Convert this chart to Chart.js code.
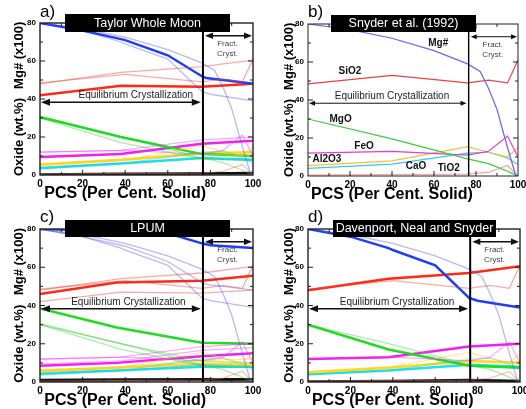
<!DOCTYPE html>
<html>
<head>
<meta charset="utf-8">
<script src="https://cdn.jsdelivr.net/npm/chart.js@4"></script>
<style>
  html, body { margin: 0; padding: 0; background: #fff; }
  body { width: 526px; height: 409px; position: relative; overflow: hidden; }
  canvas { position: absolute; }
</style>
</head>
<body>
<canvas id="panelA" width="263" height="205" style="left:0;top:0"></canvas>
<canvas id="panelB" width="263" height="205" style="left:263px;top:0"></canvas>
<canvas id="panelC" width="263" height="204" style="left:0;top:205px"></canvas>
<canvas id="panelD" width="263" height="204" style="left:263px;top:205px"></canvas>
<script>
// Axis ticks
const pcsTicks = [0, 20, 40, 60, 80, 100];
const yTicks = [0, 20, 40, 60, 80];

// Snyder et al. (1992)
const snyderMgPcs = [0, 20, 40, 60, 76, 82, 86, 90, 95, 99];
const snyderMg = [80, 77, 72.5, 66, 59, 55, 46, 35, 15, 0];
const snyderPcs = [0, 40, 76, 86, 95, 100];
const snyderSiO2 = [48.5, 53, 49, 50.5, 49, 61];
const snyderMgO = [30, 19.5, 9, 6.5, 2.5, 0];
const snyderFeO = [12, 13, 11, 13, 21, 10];
const snyderAl2O3 = [5.5, 8, 15.5, 12.5, 10, 15];
const snyderCaO = [4, 6.3, 12, 12.5, 9.5, 6];
const snyderTiO2 = [0.5, 0.8, 1, 2, 5.5, 0];

// Taylor Whole Moon
const taylorMgPcs = [0, 20, 38, 40, 60, 76, 78, 90, 100];
const taylorMg = [80, 76, 71.5, 71, 63, 52, 51, 49.5, 48];
const taylorPcs = [0, 38, 76, 100];
const taylorSiO2 = [42, 47, 46.5, 48];
const taylorMgO = [30.5, 20, 11, 10];
const taylorFeO = [9.5, 11, 16.5, 18];
const taylorAl2O3 = [5.5, 8, 11.5, 12];
const taylorCaO = [3.5, 6, 9, 8];
const taylorTiO2 = [0.3, 0.6, 0.8, 1];

// LPUM
const lpumMgPcs = [0, 40, 64, 76, 80, 100];
const lpumMg = [80, 79, 76.5, 72.5, 71.5, 70];
const lpumPcs = [0, 36, 76, 100];
const lpumSiO2 = [46, 52, 53, 55.5];
const lpumMgO = [38.5, 28.5, 20.5, 20];
const lpumFeO = [8.5, 10, 13.5, 15];
const lpumAl2O3 = [6, 7.5, 9.5, 9];
const lpumCaO = [4.5, 6, 8, 8];
const lpumTiO2 = [1, 1.3, 1.5, 1.5];

// Davenport, Neal and Snyder
const davMgPcs = [0, 20, 38, 40, 60, 76, 80, 100];
const davMg = [80, 76, 70, 69, 61, 44, 42.5, 39];
const davPcs = [0, 38, 76, 100];
const davSiO2 = [48, 54, 57, 60.5];
const davMgO = [30, 17, 8.5, 7.5];
const davFeO = [12, 13, 18.5, 20];
const davAl2O3 = [5, 7.5, 11, 10];
const davCaO = [4, 6, 9, 8];
const davTiO2 = [0.2, 0.5, 1, 0.5];

// Snyder panel labels
const snyderLabels = ['Mg#', 'SiO2', 'MgO', 'FeO', 'Al2O3', 'CaO', 'TiO2'];

const oxides = ['SiO2', 'MgO', 'FeO', 'Al2O3', 'CaO', 'TiO2'];
const FONT = '"Liberation Sans", Arial, Helvetica, sans-serif';

const snyder = { mgPcs: snyderMgPcs, mg: snyderMg, pcs: snyderPcs, SiO2: snyderSiO2, MgO: snyderMgO, FeO: snyderFeO, Al2O3: snyderAl2O3, CaO: snyderCaO, TiO2: snyderTiO2 };
const taylor = { mgPcs: taylorMgPcs, mg: taylorMg, pcs: taylorPcs, SiO2: taylorSiO2, MgO: taylorMgO, FeO: taylorFeO, Al2O3: taylorAl2O3, CaO: taylorCaO, TiO2: taylorTiO2 };
const lpum = { mgPcs: lpumMgPcs, mg: lpumMg, pcs: lpumPcs, SiO2: lpumSiO2, MgO: lpumMgO, FeO: lpumFeO, Al2O3: lpumAl2O3, CaO: lpumCaO, TiO2: lpumTiO2 };
const davenport = { mgPcs: davMgPcs, mg: davMg, pcs: davPcs, SiO2: davSiO2, MgO: davMgO, FeO: davFeO, Al2O3: davAl2O3, CaO: davCaO, TiO2: davTiO2 };

const heavyColors = { mg: '#1f3ff0', SiO2: '#ff2a12', MgO: '#1fdc1f', FeO: '#f21ff2', Al2O3: '#ffd91a', CaO: '#1ee0ea', TiO2: '#111111' };
const snyderColors = { mg: '#6868ee', SiO2: '#e54444', MgO: '#3fc83f', FeO: '#dd3ddd', Al2O3: '#f3c236', CaO: '#3cc6ee', TiO2: '#f4a4a4' };
const fadedSnyder = { mg: 'rgba(70,70,235,0.38)', SiO2: 'rgba(240,70,60,0.45)', MgO: 'rgba(50,205,50,0.4)', FeO: 'rgba(240,50,240,0.4)', Al2O3: 'rgba(250,205,50,0.45)', CaO: 'rgba(30,215,230,0.4)', TiO2: 'rgba(240,120,120,0.45)' };
const fadedOther = Object.assign({}, fadedSnyder, { TiO2: 'rgba(0,0,0,0.45)' });

function series(xs, ys, color, width) {
  return {
    data: xs.map((x, i) => ({ x: x, y: ys[i] })),
    borderColor: color,
    borderWidth: width,
    pointRadius: 0,
    tension: 0,
    fill: false
  };
}

function modelSets(model, colors, width) {
  const sets = [series(model.mgPcs, model.mg, colors.mg, width)];
  for (const ox of oxides) sets.push(series(model.pcs, model[ox], colors[ox], width));
  return sets;
}

function line(ctx, x1, y1, x2, y2) {
  ctx.beginPath(); ctx.moveTo(x1, y1); ctx.lineTo(x2, y2); ctx.stroke();
}

function arrow(ctx, x1, x2, y, w, head) {
  ctx.lineWidth = w;
  line(ctx, x1 + 2, y, x2 - 2, y);
  ctx.beginPath();
  ctx.moveTo(x1, y); ctx.lineTo(x1 + head, y - head * 0.4); ctx.lineTo(x1 + head, y + head * 0.4); ctx.closePath(); ctx.fill();
  ctx.beginPath();
  ctx.moveTo(x2, y); ctx.lineTo(x2 - head, y - head * 0.4); ctx.lineTo(x2 - head, y + head * 0.4); ctx.closePath(); ctx.fill();
}

const overlay = {
  id: 'overlay',
  afterDraw(chart, args, o) {
    const { ctx, chartArea: a } = chart;
    const x = chart.scales.x, y = chart.scales.y;
    ctx.save();
    ctx.strokeStyle = '#222';
    ctx.fillStyle = '#111';

    // frame and inner ticks
    ctx.lineWidth = o.thin ? 1 : 1.4;
    ctx.strokeRect(a.left, a.top, a.right - a.left, a.bottom - a.top);
    ctx.lineWidth = 1;
    for (let v = 10; v < 100; v += 10) {
      const px = x.getPixelForValue(v), len = v % 20 === 0 ? 5 : 3;
      line(ctx, px, a.bottom, px, a.bottom - len);
      line(ctx, px, a.top, px, a.top + len);
    }
    for (let v = 10; v < 80; v += 10) {
      const py = y.getPixelForValue(v), len = v % 20 === 0 ? 5 : 3;
      line(ctx, a.left, py, a.left + len, py);
      line(ctx, a.right, py, a.right - len, py);
    }

    // end of equilibrium crystallization
    ctx.strokeStyle = '#000';
    ctx.lineWidth = o.thin ? 1.4 : 2;
    const xv = x.getPixelForValue(76.5);
    line(ctx, xv, a.top, xv, a.bottom);

    // arrows
    ctx.strokeStyle = '#111';
    arrow(ctx, a.left + 1, x.getPixelForValue(75.5), y.getPixelForValue(38.3), o.thin ? 1 : 1.6, o.thin ? 6 : 9);
    arrow(ctx, x.getPixelForValue(77.5), a.right - 1, y.getPixelForValue(73.3), o.thin ? 1 : 1.6, o.thin ? 6 : 8);

    ctx.textAlign = 'center';
    ctx.textBaseline = 'middle';
    ctx.fillStyle = '#222';
    ctx.font = '10px ' + FONT;
    ctx.fillText('Equilibrium Crystallization', x.getPixelForValue(o.eqTextX), y.getPixelForValue(41.8));
    ctx.fillStyle = '#444';
    ctx.font = '8px ' + FONT;
    ctx.fillText('Fract.', x.getPixelForValue(88), y.getPixelForValue(69));
    ctx.fillText('Cryst.', x.getPixelForValue(88), y.getPixelForValue(64));

    // Snyder labels
    if (o.labels) {
      ctx.fillStyle = '#111';
      ctx.font = 'bold 10px ' + FONT;
      o.labels.forEach((p, i) => ctx.fillText(snyderLabels[i], x.getPixelForValue(p[0]), y.getPixelForValue(p[1])));
    }

    // title box
    const b = o.box;
    ctx.fillStyle = '#000';
    ctx.fillRect(b[0], b[1], b[2] - b[0], b[3] - b[1]);
    ctx.fillStyle = '#fff';
    ctx.font = '12.5px ' + FONT;
    ctx.fillText(o.title, (b[0] + b[2]) / 2, (b[1] + b[3]) / 2 + 0.5);

    // panel letter
    ctx.fillStyle = '#000';
    ctx.textAlign = 'left';
    ctx.textBaseline = 'alphabetic';
    ctx.font = '17px ' + FONT;
    ctx.fillText(o.letter, a.left, 17);

    // axis titles
    ctx.textAlign = 'center';
    ctx.textBaseline = 'middle';
    ctx.font = 'bold 16px ' + FONT;
    ctx.fillText('PCS (Per Cent. Solid)', x.getPixelForValue(40), a.bottom + 19);
    ctx.font = 'bold 13px ' + FONT;
    [['Mg# (x100)', 63], ['Oxide (wt.%)', 20]].forEach(t => {
      ctx.save();
      ctx.translate(o.yTitleX, y.getPixelForValue(t[1]));
      ctx.rotate(-Math.PI / 2);
      ctx.fillText(t[0], 0, 0);
      ctx.restore();
    });
    ctx.restore();
  }
};

function makePanel(id, area, datasets, opts) {
  const canvas = document.getElementById(id);
  const W = canvas.width, H = canvas.height;
  return new Chart(canvas, {
    type: 'line',
    data: { datasets: datasets },
    options: {
      responsive: false,
      animation: false,
      devicePixelRatio: 1,
      layout: { padding: { top: area.top, right: W - area.right, left: 0, bottom: 0 } },
      plugins: { legend: { display: false }, tooltip: { enabled: false }, overlay: opts },
      scales: {
        x: {
          type: 'linear', min: 0, max: 100,
          grid: { display: false, drawTicks: false }, border: { display: false },
          ticks: { color: '#000', font: { family: FONT, size: 10, weight: 'bold' }, padding: 3, maxRotation: 0 },
          afterBuildTicks: s => { s.ticks = pcsTicks.map(v => ({ value: v })); },
          afterFit: s => { s.height = H - area.bottom; s.paddingLeft = 0; s.paddingRight = 0; }
        },
        y: {
          min: 0, max: 80,
          grid: { display: false, drawTicks: false }, border: { display: false },
          ticks: { color: '#000', font: { family: FONT, size: 8, weight: 'bold' }, padding: 4 },
          afterBuildTicks: s => { s.ticks = yTicks.map(v => ({ value: v })); },
          afterFit: s => { s.width = area.left; s.paddingTop = 0; s.paddingBottom = 0; }
        }
      }
    },
    plugins: [overlay]
  });
}

makePanel('panelA', { left: 40, right: 253, top: 23, bottom: 175 },
  [].concat(modelSets(snyder, fadedSnyder, 1.3), modelSets(davenport, fadedOther, 1.3), modelSets(taylor, heavyColors, 2.5)),
  { title: 'Taylor Whole Moon', letter: 'a)', box: [65, 14, 230, 32], eqTextX: 45, yTitleX: 19 });

makePanel('panelB', { left: 45, right: 255, top: 24, bottom: 176 },
  modelSets(snyder, snyderColors, 1.2),
  { title: 'Snyder et al. (1992)', letter: 'b)', box: [68, 15, 213, 32], eqTextX: 40, yTitleX: 26, thin: true,
    labels: [[62, 70], [20, 55], [15.5, 30], [26.7, 15.8], [9, 9], [51.4, 5.3], [67, 4]] });

makePanel('panelC', { left: 40, right: 253, top: 24, bottom: 177 },
  [].concat(modelSets(snyder, fadedSnyder, 1.3), modelSets(davenport, fadedOther, 1.3), modelSets(taylor, fadedOther, 1.3), modelSets(lpum, heavyColors, 2.5)),
  { title: 'LPUM', letter: 'c)', box: [65, 15, 230, 32], eqTextX: 41.5, yTitleX: 19 });

makePanel('panelD', { left: 45, right: 257, top: 24, bottom: 177 },
  [].concat(modelSets(snyder, fadedSnyder, 1.3), modelSets(davenport, heavyColors, 2.5)),
  { title: 'Davenport, Neal and Snyder', letter: 'd)', box: [70, 15, 233, 32], eqTextX: 42, yTitleX: 26 });
</script>
</body>
</html>
